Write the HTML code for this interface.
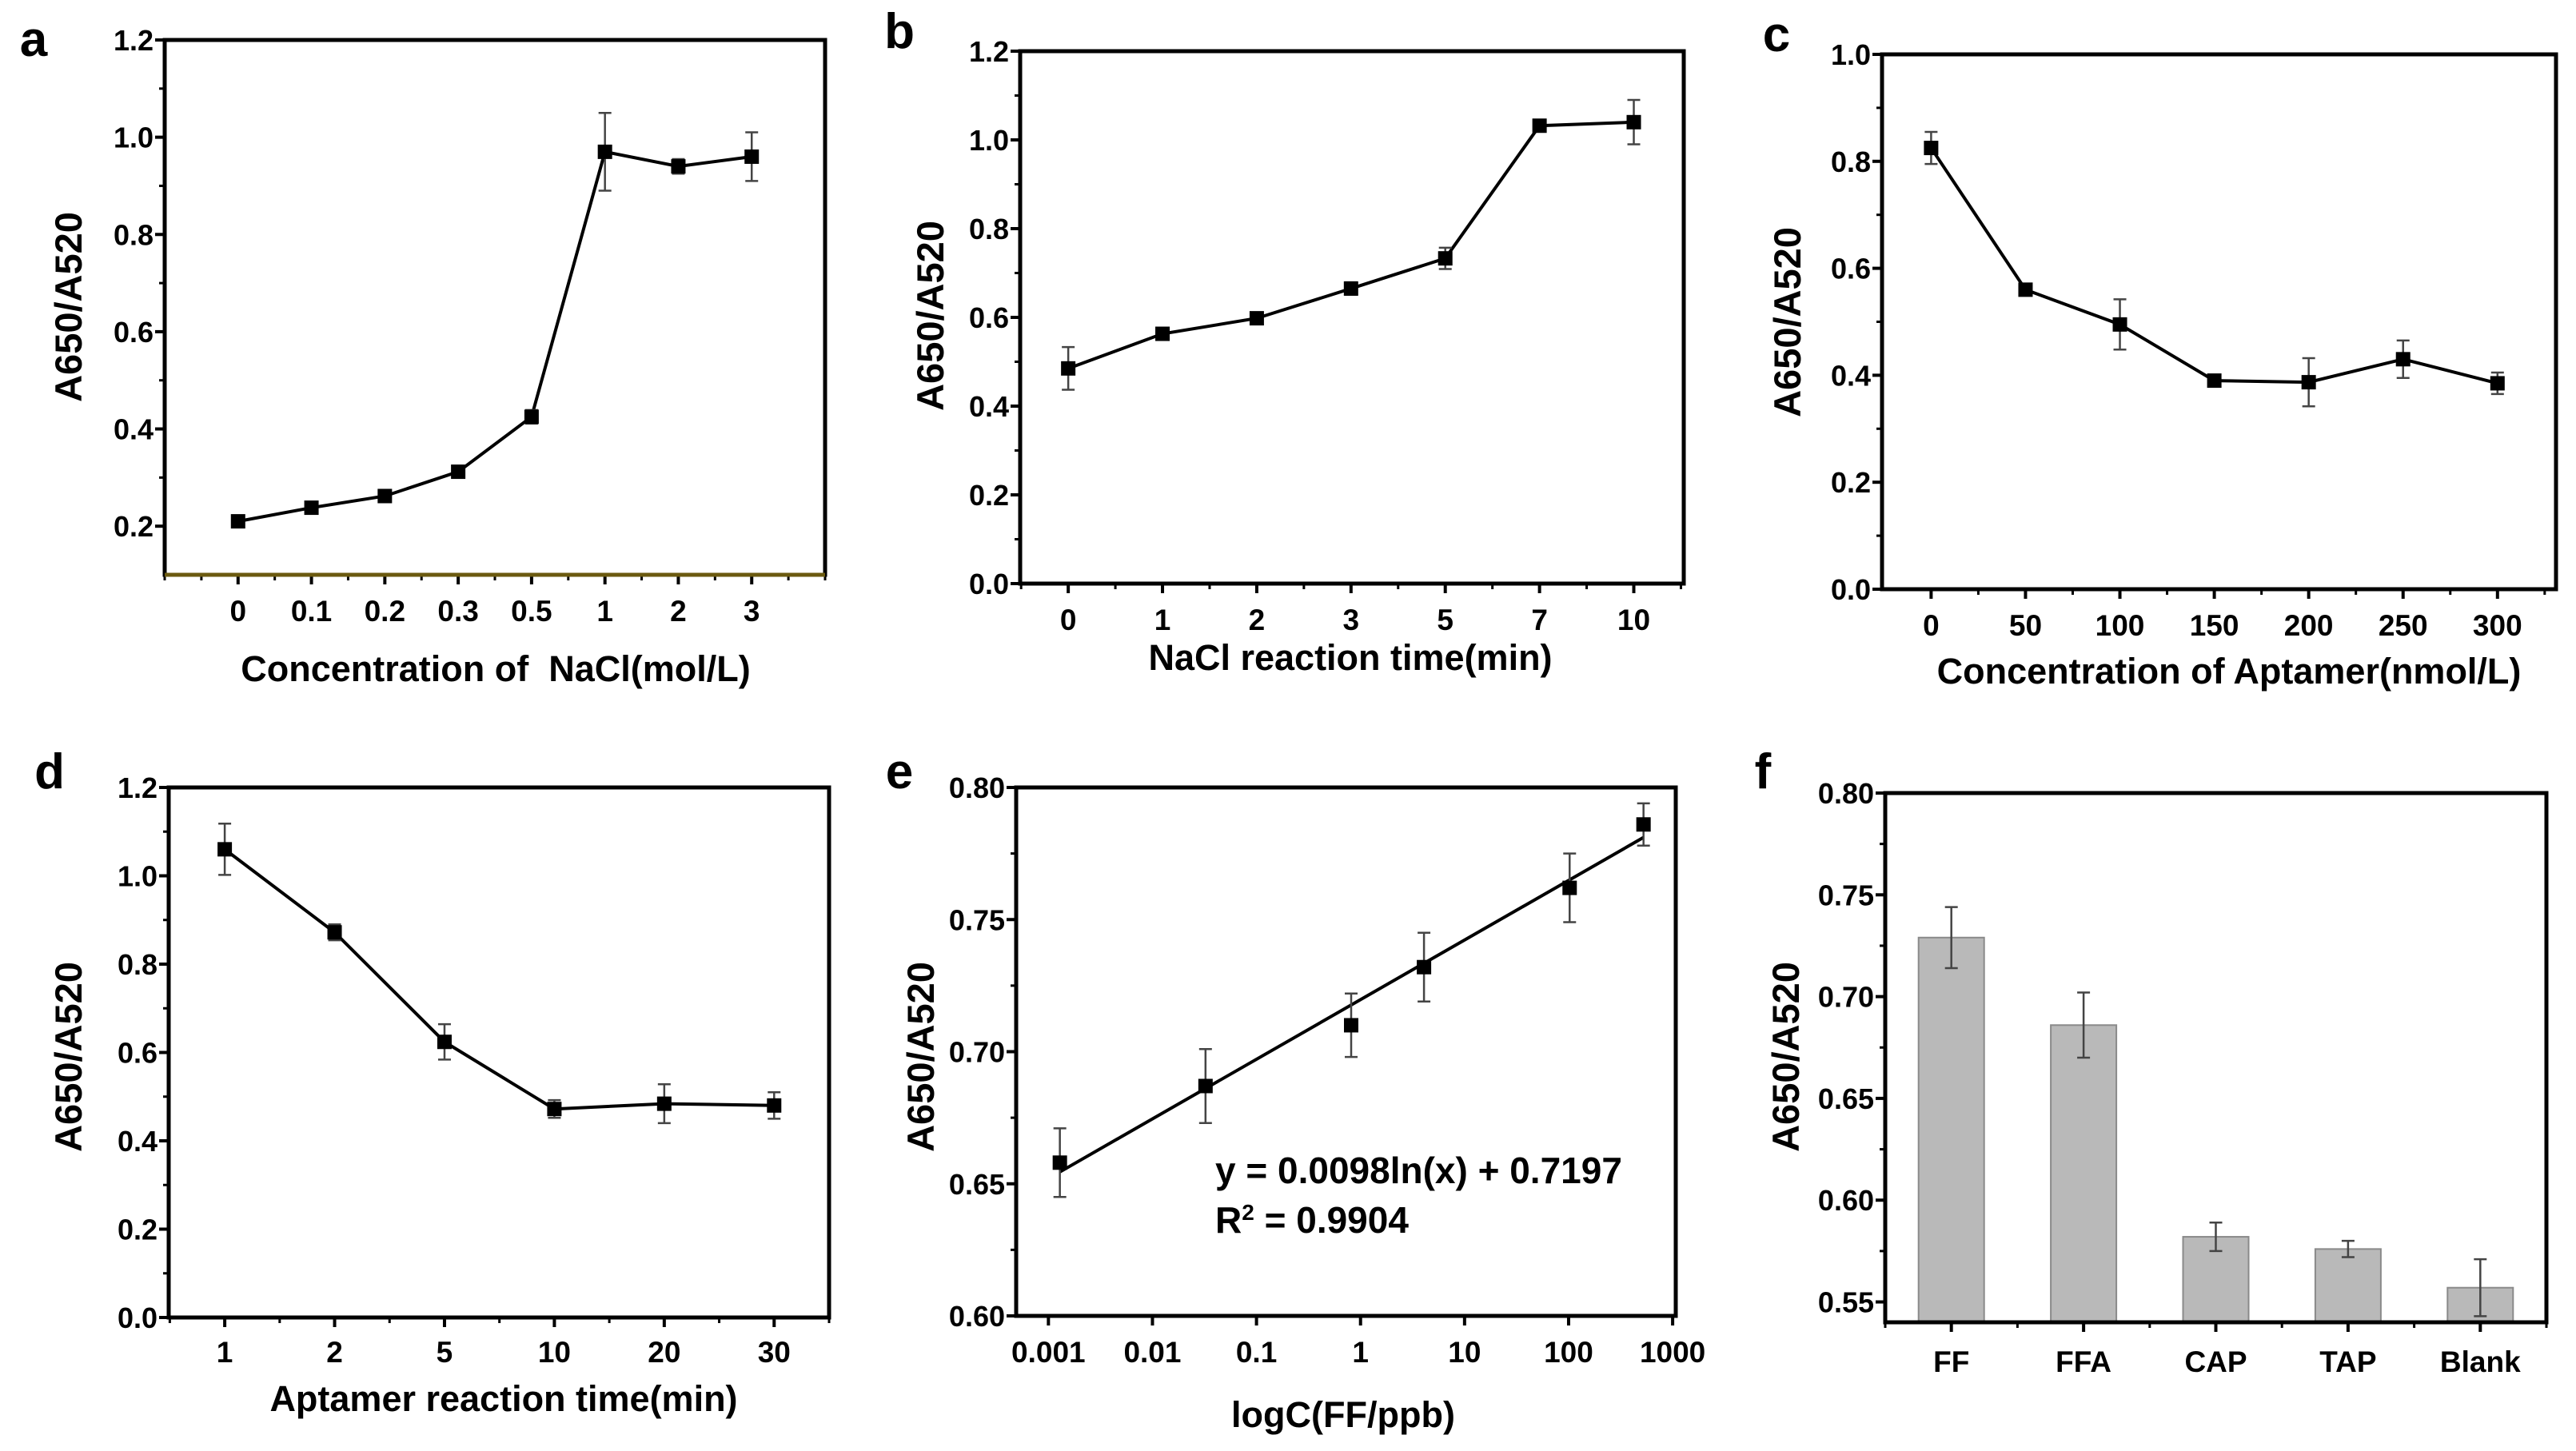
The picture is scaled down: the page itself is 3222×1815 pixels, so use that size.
<!DOCTYPE html>
<html><head><meta charset="utf-8"><style>
html,body{margin:0;padding:0;background:#fff;}
svg{display:block;font-family:"Liberation Sans",sans-serif;font-weight:bold;}
</style></head><body>
<svg id="fig" width="3222" height="1815" viewBox="0 0 3222 1815" xmlns="http://www.w3.org/2000/svg"></svg>
<script>
// ---- data ----
const aCats = ["0","0.1","0.2","0.3","0.5","1","2","3"];
const aVals = [0.21,0.238,0.262,0.312,0.425,0.97,0.94,0.96];
const aErr  = [0.005,0.006,0.006,0.006,0.014,0.08,0.015,0.05];
const aYTicks = [0.2,0.4,0.6,0.8,1.0,1.2];

const bCats = ["0","1","2","3","5","7","10"];
const bVals = [0.485,0.563,0.598,0.665,0.733,1.032,1.04];
const bErr  = [0.048,0.008,0.008,0.014,0.024,0.006,0.05];
const bYTicks = [0.0,0.2,0.4,0.6,0.8,1.0,1.2];

const cX    = [0,50,100,150,200,250,300];
const cVals = [0.825,0.56,0.495,0.39,0.387,0.43,0.385];
const cErr  = [0.03,0.005,0.047,0.005,0.045,0.035,0.02];
const cYTicks = [0.0,0.2,0.4,0.6,0.8,1.0];

const dCats = ["1","2","5","10","20","30"];
const dVals = [1.06,0.872,0.624,0.472,0.484,0.48];
const dErr  = [0.058,0.018,0.04,0.02,0.044,0.03];
const dYTicks = [0.0,0.2,0.4,0.6,0.8,1.0,1.2];

const eLogX = [-2.89,-1.49,-0.09,0.61,2.01,2.72];
const eVals = [0.658,0.687,0.710,0.732,0.762,0.786];
const eErr  = [0.013,0.014,0.012,0.013,0.013,0.008];
const eXTickLabels = ["0.001","0.01","0.1","1","10","100","1000"];
const eYTicks = [0.60,0.65,0.70,0.75,0.80];
const eFit = [0.0098,0.7197];

const fCats = ["FF","FFA","CAP","TAP","Blank"];
const fVals = [0.729,0.686,0.582,0.576,0.557];
const fErr  = [0.015,0.016,0.007,0.004,0.014];
const fYTicks = [0.55,0.60,0.65,0.70,0.75,0.80];

const NS="http://www.w3.org/2000/svg";
const svg=document.getElementById('fig');
function mk(tag,attrs,parent,txt){const e=document.createElementNS(NS,tag);for(const k in attrs)e.setAttribute(k,attrs[k]);if(txt!==undefined)e.textContent=txt;(parent||svg).appendChild(e);return e;}
function lin(d0,d1,r0,r1){return v=>r0+(v-d0)/(d1-d0)*(r1-r0);}

function panel(o){
  const g=mk('g',{});
  
  
  const X=lin(o.xd[0],o.xd[1],o.L,o.R), Y=lin(o.yd[0],o.yd[1],o.B,o.T);
  const lt=mk('text',{x:o.letter[0],y:o.letter[1],'font-size':62,'text-anchor':'middle'},g,o.id);
  
  
  o.yTicks.forEach(v=>{
    const y=Y(v);
    mk('line',{x1:o.L-12,x2:o.L,y1:y,y2:y,stroke:'#000','stroke-width':4},g);
    const t=mk('text',{x:o.L-14,y:y+13,'font-size':36,'text-anchor':'end'},g,v.toFixed(o.yDec));
    
    
  });
  for(let i=0;i<o.yTicks.length-1;i++){const y=Y((o.yTicks[i]+o.yTicks[i+1])/2);mk('line',{x1:o.L-7,x2:o.L,y1:y,y2:y,stroke:'#000','stroke-width':3},g);}
  o.xTicks.forEach((v,i)=>{
    const x=X(v);
    mk('line',{x1:x,x2:x,y1:o.B,y2:o.B+12,stroke:'#000','stroke-width':4},g);
    const t=mk('text',{x:x,y:o.B+o.xLabDy,'font-size':37,'text-anchor':'middle'},g,o.xLabels[i]);
    
    
  });
  if(o.xMinor) o.xMinor.forEach(v=>{const x=X(v);mk('line',{x1:x,x2:x,y1:o.B,y2:o.B+7,stroke:'#000','stroke-width':3},g);});
  const yt=mk('text',{x:0,y:0,'font-size':47,'text-anchor':'middle',transform:`translate(${o.yTitle[0]},${o.yTitle[1]}) rotate(-90)`},g,'A650/A520');
  
  
  if(o.xTitle){
    const xt=mk('text',{x:o.xTitle[1],y:o.xTitle[2],'font-size':45,'text-anchor':'middle'},g,o.xTitle[0]);
    
    
  }
  o.draw(g,X,Y);
  const fr=mk('rect',{x:o.L,y:o.T,width:o.R-o.L,height:o.B-o.T,fill:'none',stroke:'#000','stroke-width':5},g);
  
  
  if(o.olive) mk('line',{x1:o.L,x2:o.R,y1:o.B,y2:o.B,stroke:'#6b5a10','stroke-width':5},g);
  return g;
}
function errbar(g,x,y1,y2){
  mk('line',{x1:x,x2:x,y1:y1,y2:y2,stroke:'#444','stroke-width':2.5},g);
  mk('line',{x1:x-8,x2:x+8,y1:y1,y2:y1,stroke:'#444','stroke-width':2.5},g);
  mk('line',{x1:x-8,x2:x+8,y1:y2,y2:y2,stroke:'#444','stroke-width':2.5},g);
}
function lineSeries(xs,vals,errs){
  return (g,X,Y)=>{
    const pts=xs.map((x,i)=>X(x)+','+Y(vals[i])).join(' ');
    const pl=mk('polyline',{points:pts,fill:'none',stroke:'#000','stroke-width':4},g);
    
    
    xs.forEach((x,i)=>{
      errbar(g,X(x),Y(vals[i]+errs[i]),Y(vals[i]-errs[i]));
      const r=mk('rect',{x:X(x)-9,y:Y(vals[i])-9,width:18,height:18,fill:'#000'},g);
      
      
    });
  };
}
const idx=n=>Array.from({length:n},(_,i)=>i);
const halfs=n=>Array.from({length:n+1},(_,i)=>i-0.5);

panel({id:'a',L:206,R:1032,T:50,B:719,xd:[-1,8],yd:[0.1,1.2],yTicks:aYTicks,yDec:1,
  xTicks:idx(8),xLabels:aCats,xMinor:halfs(8).concat([-1,8]),xLabDy:58,olive:true,
  letter:[42,70],yTitle:[102,384],xTitle:['Concentration of\u00a0\u00a0NaCl(mol/L)',620,852],
  draw:lineSeries(idx(8),aVals,aErr)});
panel({id:'b',L:1276,R:2106,T:64,B:730,xd:[-0.51,6.53],yd:[0,1.2],yTicks:bYTicks,yDec:1,
  xTicks:idx(7),xLabels:bCats,xMinor:halfs(7),xLabDy:58,
  letter:[1125,60],yTitle:[1180,395],xTitle:['NaCl reaction time(min)',1689,838],
  draw:lineSeries(idx(7),bVals,bErr)});
panel({id:'c',L:2354,R:3197,T:68,B:737,xd:[-26,331],yd:[0,1.0],yTicks:cYTicks,yDec:1,
  xTicks:cX,xLabels:cX.map(String),xMinor:cX.map(v=>v+25),xLabDy:58,
  letter:[2222,64],yTitle:[2252,403],xTitle:['Concentration of Aptamer(nmol/L)',2788,855],
  draw:lineSeries(cX,cVals,cErr)});
panel({id:'d',L:211,R:1037,T:985,B:1648,xd:[-0.51,5.5],yd:[0,1.2],yTicks:dYTicks,yDec:1,
  xTicks:idx(6),xLabels:dCats,xMinor:halfs(6),xLabDy:56,
  letter:[62,986],yTitle:[102,1322],xTitle:['Aptamer reaction time(min)',630,1765],
  draw:lineSeries(idx(6),dVals,dErr)});
panel({id:'e',L:1271,R:2096,T:985,B:1646,xd:[-3.31,3.03],yd:[0.60,0.80],yTicks:eYTicks,yDec:2,
  xTicks:[-3,-2,-1,0,1,2,3],xLabels:eXTickLabels,xLabDy:58,
  letter:[1125,986],yTitle:[1168,1322],xTitle:['logC(FF/ppb)',1680,1785],
  draw:(g,X,Y)=>{
    const ln10=Math.log(10);
    const x0=eLogX[0], x1=eLogX[eLogX.length-1];
    const fy=lx=>eFit[0]*lx*ln10+eFit[1];
    const fl=mk('line',{x1:X(x0),y1:Y(fy(x0)),x2:X(x1),y2:Y(fy(x1)),stroke:'#000','stroke-width':4},g);
    
    
    eLogX.forEach((x,i)=>{
      errbar(g,X(x),Y(eVals[i]+eErr[i]),Y(eVals[i]-eErr[i]));
      const r=mk('rect',{x:X(x)-9,y:Y(eVals[i])-9,width:18,height:18,fill:'#000'},g);
      
      
    });
    const t1=mk('text',{x:1520,y:1480,'font-size':46},g,'y = 0.0098ln(x) + 0.7197');
    
    
    const t2=mk('text',{x:1520,y:1542,'font-size':46},g,'');
    
    
    t2.innerHTML='R<tspan dy="-16" font-size="28">2</tspan><tspan dy="16"> = 0.9904</tspan>';
  }});
panel({id:'f',L:2358,R:3185,T:992,B:1654,xd:[-0.5,4.5],yd:[0.54,0.80],yTicks:fYTicks,yDec:2,
  xTicks:idx(5),xLabels:fCats,xMinor:halfs(5),xLabDy:62,
  letter:[2205,986],yTitle:[2250,1322],
  draw:(g,X,Y)=>{
    fCats.forEach((c,i)=>{
      const b=mk('rect',{x:X(i)-41,y:Y(fVals[i]),width:82,height:Y(0.54)-Y(fVals[i]),fill:'#b9b9b9',stroke:'#8a8a8a','stroke-width':2},g);
      
      
      errbar(g,X(i),Y(fVals[i]+fErr[i]),Y(fVals[i]-fErr[i]));
    });
  }});
</script>
</body></html>
